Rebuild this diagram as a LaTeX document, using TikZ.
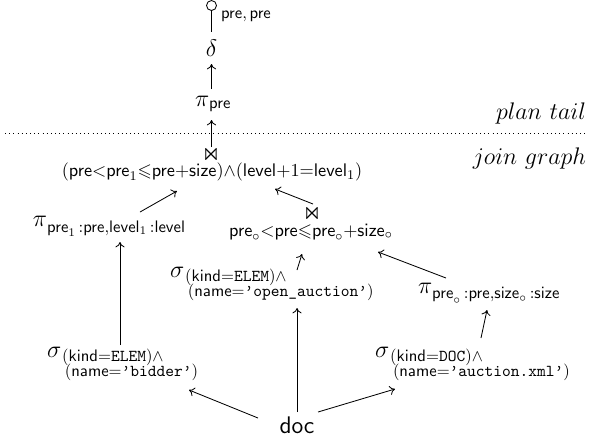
\documentclass[tikz,border=0pt]{standalone}
\usepackage{amsmath,amssymb}
\usetikzlibrary{arrows.meta}
\newcommand{\sfm}[1]{\mathsf{#1}}
\newcommand{\ttm}[1]{\mathtt{#1}}
\newcommand{\ttq}[1]{\text{\ttfamily\textquoteright#1\textquoteright}}
% operator symbol with a full-size subscript
\newcommand{\opsub}[2]{$\text{\Large$#1$}_{\hbox{$#2$}}$}
% selection with a two-line predicate
\newcommand{\selpred}[2]{$\text{\Large$\sigma$}$\hspace{0.6pt}\raisebox{-2.6pt}{\begin{tabular}[t]{@{}l@{}}$#1$\\[-2.9pt]$\,#2$\end{tabular}}}
\begin{document}
\begin{tikzpicture}[x=0.6pt,y=-0.6pt,
  lbl/.style={inner sep=0pt, outer sep=0pt},
  big/.style={font=\fontsize{11}{13}\selectfont},
  edge/.style={-{To[length=3.2pt,width=5.5pt]}, line width=0.5pt}]
\useasboundingbox (0,0) rectangle (589,445);

% plan tail
\draw[line width=0.5pt] (211.5,5.5) circle (5);
\coordinate (sertop) at (211.5,10.5);
\coordinate (serbot) at (211.5,32);
\draw[line width=0.5pt] (sertop) -- (serbot);
\node[lbl, anchor=west] (ser) at (221,16) {$\sfm{pre},\sfm{pre}$};
\node[lbl] (dup) at (211.5,48) {\Large$\delta$};
\node[lbl, anchor=west] (proj) at (195,104) {\opsub{\pi}{\sfm{pre}}};
\coordinate (dupin) at (211.5,64);
\coordinate (projout) at (211.5,89);
\draw[edge] (projout) -- (dupin);

\coordinate (sepL) at (5,133);
\coordinate (sepR) at (586,133);
\draw[dotted, line width=0.5pt] (sepL) -- (sepR);
\node[lbl, anchor=east] (tail) at (586,113) {\Large$plan~tail$};
\node[lbl, anchor=east] (jg) at (586,158) {\Large$join~graph$};

% join graph
\node[lbl] (j1sym) at (211,154) {\Large$\Join$};
\node[lbl, big] (j1) at (212,172) {$(\sfm{pre}{<}\sfm{pre}_1{\leqslant}\sfm{pre}{+}\sfm{size}){\wedge}(\sfm{level}{+}1{=}\sfm{level}_1)$};
\coordinate (j1top) at (211.5,147);
\coordinate (projin) at (211.5,120);
\draw[edge] (j1top) -- (projin);

\node[lbl, anchor=west] (p1) at (33,226) {\opsub{\pi}{\sfm{pre}_1\,{:}\sfm{pre}{,}\sfm{level}_1\,{:}\sfm{level}}};
\coordinate (p1out) at (140,212);
\coordinate (j1inL) at (177,191);
\draw[edge] (p1out) -- (j1inL);

\node[lbl] (j2sym) at (312,213) {\Large$\Join$};
\node[lbl, big] (j2) at (311,232) {$\sfm{pre}_\circ{<}\sfm{pre}{\leqslant}\sfm{pre}_\circ{+}\sfm{size}_\circ$};
\coordinate (j2out) at (313,204);
\coordinate (j1inR) at (275,189);
\draw[edge] (j2out) -- (j1inR);

\node[lbl, anchor=base west] (s2) at (170,277) {\selpred{(\sfm{kind}{=}\ttm{ELEM}){\wedge}}{(\sfm{name}{=}\ttq{open\_auction})}};
\coordinate (s2out) at (297,270);
\coordinate (j2inL) at (302,254);
\draw[edge] (s2out) -- (j2inL);

\node[lbl, anchor=west] (p2) at (418,293) {\opsub{\pi}{\sfm{pre}_\circ\,{:}\sfm{pre}{,}\sfm{size}_\circ\,{:}\sfm{size}}};
\coordinate (p2out) at (446,278);
\coordinate (j2inR) at (378,252);
\draw[edge] (p2out) -- (j2inR);

\node[lbl, anchor=base west] (s1) at (47,357) {\selpred{(\sfm{kind}{=}\ttm{ELEM}){\wedge}}{(\sfm{name}{=}\ttq{bidder})}};
\coordinate (s1out) at (120,345);
\coordinate (p1in) at (120,242);
\draw[edge] (s1out) -- (p1in);

\node[lbl, anchor=base west] (s3) at (375,357) {\selpred{(\sfm{kind}{=}\ttm{DOC}){\wedge}}{(\sfm{name}{=}\ttq{auction.xml})}};
\coordinate (s3out) at (481,338);
\coordinate (p2in) at (487,310);
\draw[edge] (s3out) -- (p2in);

\node[lbl] (doc) at (297,425) {\Large$\sfm{doc}$};
\coordinate (docL) at (258,418);
\coordinate (docM) at (297,412);
\coordinate (docR) at (318,412);
\coordinate (s1in) at (189,390);
\coordinate (s2in) at (297,308);
\coordinate (s3in) at (395,389);
\draw[edge] (docL) -- (s1in);
\draw[edge] (docM) -- (s2in);
\draw[edge] (docR) -- (s3in);
\end{tikzpicture}
\end{document}
